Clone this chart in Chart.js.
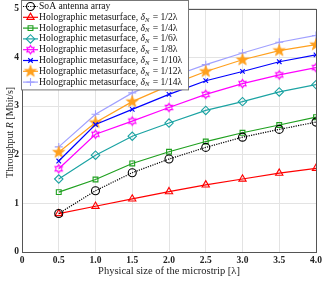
<!DOCTYPE html>
<html>
<head>
<meta charset="utf-8">
<script src="https://cdn.jsdelivr.net/npm/chart.js@4"></script>
<style>
  html, body { margin: 0; padding: 0; background: #fff; }
  #wrap { width: 325px; height: 283px; }
</style>
</head>
<body>
<div id="wrap"><canvas id="myChart" width="325" height="283"></canvas></div>
<script>
/* global Chart */

// data
const sizes = [0.5, 1, 1.5, 2, 2.5, 3, 3.5, 4];
const soa = [0.79, 1.26, 1.63, 1.91, 2.15, 2.36, 2.52, 2.67];
const holo2 = [0.79, 0.94, 1.09, 1.24, 1.38, 1.50, 1.62, 1.72];
const holo4 = [1.23, 1.49, 1.82, 2.06, 2.27, 2.45, 2.61, 2.77];
const holo6 = [1.50, 1.99, 2.38, 2.65, 2.91, 3.09, 3.29, 3.44];
const holo8 = [1.71, 2.42, 2.69, 2.97, 3.24, 3.46, 3.64, 3.79];
const holo10 = [1.87, 2.62, 2.93, 3.24, 3.52, 3.71, 3.91, 4.05];
const holo12 = [2.05, 2.66, 3.09, 3.42, 3.71, 3.95, 4.14, 4.26];
const holo14 = [2.16, 2.83, 3.27, 3.58, 3.85, 4.09, 4.31, 4.45];
const xTicks = [0, 0.5, 1, 1.5, 2, 2.5, 3, 3.5, 4];
const yTicks = [0, 1, 2, 3, 4, 5];
const spacings = ['1/2', '1/4', '1/6', '1/8', '1/10', '1/12', '1/14'];

const SERIF = '"Liberation Serif", "DejaVu Serif", serif';

// star shaped marker drawn on a small canvas
function starMarker(tips, outer, inner, color, filled) {
  const c = document.createElement('canvas');
  const s = Math.ceil(outer * 2 + 4);
  c.width = s; c.height = s;
  const g = c.getContext('2d');
  g.translate(s / 2, s / 2);
  g.beginPath();
  for (let i = 0; i < tips * 2; i++) {
    const r = i % 2 === 0 ? outer : inner;
    const a = -Math.PI / 2 + i * Math.PI / tips;
    const px = r * Math.cos(a), py = r * Math.sin(a);
    if (i === 0) g.moveTo(px, py); else g.lineTo(px, py);
  }
  g.closePath();
  g.lineWidth = 1.1;
  g.strokeStyle = color;
  if (filled) { g.fillStyle = color; g.fill(); }
  g.stroke();
  return c;
}

const hexStar = starMarker(6, 4.2, 2.5, '#ff00ff', false);
const pentStar = starMarker(5, 5.6, 2.3, '#ffa01e', true);

function line(label, data, color, style, extra) {
  return Object.assign({
    label: label,
    data: data.map(function(v, i) { return { x: sizes[i], y: v }; }),
    borderColor: color,
    backgroundColor: 'rgba(0,0,0,0)',
    borderWidth: 1.2,
    pointStyle: style,
    pointRadius: 3.5,
    pointBorderWidth: 1.1,
    pointBorderColor: color,
    pointBackgroundColor: 'rgba(0,0,0,0)',
    tension: 0
  }, extra || {});
}

const datasets = [
  line('SoA antenna array', soa, '#000000', 'circle', { borderDash: [1.2, 1.2], pointRadius: 4 }),
  line('Holographic metasurface', holo2, '#ff0000', 'triangle', { pointRadius: 4.2 }),
  line('Holographic metasurface', holo4, '#1fa01f', 'rect', { pointRadius: 3.4 }),
  line('Holographic metasurface', holo6, '#1ba3a3', 'rectRot', { pointRadius: 4.2 }),
  line('Holographic metasurface', holo8, '#ff00ff', hexStar),
  line('Holographic metasurface', holo10, '#0000ff', 'crossRot', { pointRadius: 3.2 }),
  line('Holographic metasurface', holo12, '#ffa01e', pentStar),
  line('Holographic metasurface', holo14, '#a0a0ff', 'cross', { pointRadius: 4 })
];

// frame, y title and the legend box inside the axes
const decorations = {
  id: 'decorations',
  afterDatasetsDraw(chart) {
    const ctx = chart.ctx;
    const a = chart.chartArea;
    ctx.save();
    ctx.strokeStyle = '#555';
    ctx.lineWidth = 1;
    ctx.strokeRect(Math.round(a.left) + 0.5, Math.round(a.top) + 0.5,
      Math.round(a.right - a.left), Math.round(a.bottom - a.top));

    // y title with italic R
    ctx.translate(10, (a.top + a.bottom) / 2 + 2);
    ctx.rotate(-Math.PI / 2);
    ctx.fillStyle = '#222';
    ctx.textBaseline = 'middle';
    const parts = [['Throughput ', '10px ' + SERIF], ['R', 'italic 10px ' + SERIF], [' [Mbit/s]', '10px ' + SERIF]];
    let total = 0;
    parts.forEach(function(p) { ctx.font = p[1]; total += ctx.measureText(p[0]).width; });
    let px = -total / 2;
    parts.forEach(function(p) { ctx.font = p[1]; ctx.fillText(p[0], px, 0); px += ctx.measureText(p[0]).width; });
    ctx.restore();

    // legend
    ctx.save();
    const bx = 21, by = 0.5, bw = 167, rowH = 10.8;
    const bh = rowH * datasets.length + 3;
    ctx.fillStyle = '#fff';
    ctx.fillRect(bx, by, bw, bh);
    ctx.strokeStyle = '#777';
    ctx.lineWidth = 1;
    ctx.strokeRect(bx + 0.5, by, bw, bh);
    chart.data.datasets.forEach(function(ds, i) {
      const cy = by + 6 + i * rowH;
      ctx.strokeStyle = ds.borderColor;
      ctx.lineWidth = ds.borderWidth;
      ctx.setLineDash(ds.borderDash || []);
      ctx.beginPath();
      ctx.moveTo(bx + 2, cy);
      ctx.lineTo(bx + 17, cy);
      ctx.stroke();
      ctx.setLineDash([]);
      ctx.lineWidth = ds.pointBorderWidth;
      ctx.fillStyle = 'rgba(0,0,0,0)';
      Chart.helpers.drawPoint(ctx, {
        pointStyle: ds.pointStyle,
        radius: ds.pointRadius,
        borderWidth: ds.pointBorderWidth,
        rotation: 0
      }, bx + 9.5, cy);
      ctx.fillStyle = '#111';
      ctx.textBaseline = 'middle';
      let tx = bx + 18;
      ctx.font = '9.6px ' + SERIF;
      if (i === 0) {
        ctx.fillText(ds.label, tx, cy);
        return;
      }
      const label = ds.label + ', ';
      ctx.fillText(label, tx, cy);
      tx += ctx.measureText(label).width;
      ctx.font = 'italic 9.6px ' + SERIF;
      ctx.fillText('δ', tx, cy);
      tx += ctx.measureText('δ').width;
      ctx.font = 'italic 6.6px ' + SERIF;
      ctx.fillText('N', tx, cy + 2.5);
      tx += ctx.measureText('N').width + 1;
      ctx.font = '9.6px ' + SERIF;
      ctx.fillText(' = ' + spacings[i - 1] + 'λ', tx, cy);
    });
    ctx.restore();
  }
};

const ctx = document.getElementById('myChart').getContext('2d');
const chart = new Chart(ctx, {
  type: 'line',
  data: { datasets: datasets },
  options: {
    responsive: false,
    animation: false,
    layout: { padding: { top: 6, right: 9, left: 0, bottom: 0 } },
    plugins: {
      legend: { display: false },
      tooltip: { enabled: false }
    },
    scales: {
      x: {
        type: 'linear',
        min: 0,
        max: 4,
        afterBuildTicks: function(s) { s.ticks = xTicks.map(function(v) { return { value: v }; }); },
        afterFit: function(s) { s.height = 31; },
        grid: { color: '#e3e3e3', lineWidth: 1, drawTicks: false },
        border: { display: false },
        ticks: {
          padding: 3,
          color: '#222',
          maxRotation: 0,
          font: { family: SERIF, size: 9.5, weight: 'bold' }
        },
        title: {
          display: true,
          text: 'Physical size of the microstrip [λ]',
          color: '#222',
          padding: { top: 0, bottom: 5 },
          font: { family: SERIF, size: 10.5 }
        }
      },
      y: {
        type: 'linear',
        min: 0,
        max: 5,
        afterBuildTicks: function(s) { s.ticks = yTicks.map(function(v) { return { value: v }; }); },
        afterFit: function(s) { s.width = 22; },
        grid: { color: '#e3e3e3', lineWidth: 1, drawTicks: false },
        border: { display: false },
        ticks: {
          padding: 3,
          color: '#222',
          font: { family: SERIF, size: 9.5, weight: 'bold' }
        }
      }
    }
  },
  plugins: [decorations]
});
console.log(chart);
</script>
</body>
</html>
